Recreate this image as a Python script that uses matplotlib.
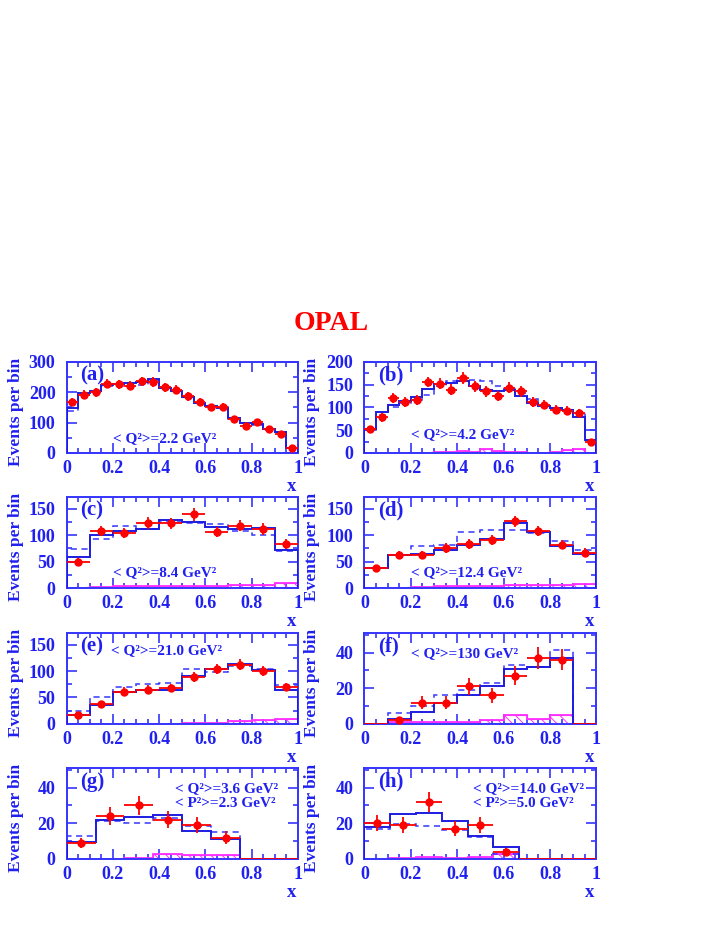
#!/usr/bin/env python3
# OPAL x distributions, 8 panels

import numpy as np
import matplotlib
matplotlib.use("Agg")
import matplotlib.pyplot as plt
from matplotlib.ticker import MultipleLocator, FuncFormatter

plt.rcParams["font.family"] = ["Liberation Serif", "DejaVu Serif"]
plt.rcParams["font.weight"] = "bold"
plt.rcParams["hatch.linewidth"] = 0.7

BLUE = "#3535ff"
TEXT_BLUE = "#2020f0"
HIST_BLUE = "#1c1ce0"
RED = "#ff0000"
MAGENTA = "#ff30ff"

# panel labels
panel_tags = ["(a)", "(b)", "(c)", "(d)", "(e)", "(f)", "(g)", "(h)"]
q2_labels = ["< Q²>=2.2 GeV²", "< Q²>=4.2 GeV²", "< Q²>=8.4 GeV²", "< Q²>=12.4 GeV²",
             "< Q²>=21.0 GeV²", "< Q²>=130 GeV²", "< Q²>=3.6 GeV²", "< Q²>=14.0 GeV²"]
p2_labels = [None, None, None, None, None, None, "< P²>=2.3 GeV²", "< P²>=5.0 GeV²"]

# number of bins in [0,1]
n_bins = [20, 20, 10, 10, 10, 10, 8, 9]
y_max = [300, 200, 172, 172, 172, 51, 51, 51]
y_major = [100, 50, 50, 50, 50, 20, 20, 20]

# (a)
data_a = [169, 192, 200, 229, 226, 222, 237, 234, 217, 209, 187, 168, 151, 153, 111, 90, 102, 80, 62, 18]
err_a = [13, 14, 14, 15, 15, 15, 15, 15, 15, 14, 14, 13, 12, 12, 11, 9, 10, 9, 8, 4]
solid_a = [148, 197, 205, 225, 228, 230, 235, 243, 214, 203, 183, 165, 155, 148, 115, 100, 95, 78, 70, 18]
dash_a = [140, 190, 200, 220, 222, 222, 225, 240, 215, 205, 185, 167, 155, 152, 112, 98, 92, 75, 68, 15]
bkg_a = [1, 1, 1, 1, 1, 1, 1, 1, 1, 1, 1, 1, 1, 1, 1, 1, 1, 1, 1, 1]

# (b)
data_b = [52, 78, 121, 113, 116, 156, 152, 139, 165, 147, 136, 126, 143, 136, 111, 106, 95, 93, 87, 24]
err_b = [7, 9, 11, 11, 11, 12, 12, 12, 13, 12, 12, 11, 12, 12, 11, 10, 10, 10, 9, 5]
solid_b = [52, 91, 106, 115, 124, 141, 152, 153, 158, 147, 139, 136, 138, 126, 110, 104, 99, 95, 79, 28]
dash_b = [50, 84, 100, 110, 117, 128, 147, 158, 165, 160, 158, 147, 141, 132, 119, 106, 99, 95, 87, 50]
bkg_b = [1, 1, 1, 1, 1, 1, 2, 2, 5, 3, 8, 4, 2, 2, 1, 1, 2, 6, 9, 1]

# (c)
data_c = [50, 108, 104, 123, 122, 139, 106, 118, 112, 83]
err_c = [7, 10, 10, 11, 11, 12, 10, 11, 11, 9]
solid_c = [59, 100, 107, 112, 128, 125, 115, 112, 113, 71]
dash_c = [73, 93, 117, 112, 124, 122, 121, 107, 101, 69]
bkg_c = [0, 1, 3, 3, 3, 3, 3, 5, 5, 10]

# (d)
data_d = [38, 62, 62, 76, 83, 91, 126, 108, 82, 67]
err_d = [6, 8, 8, 9, 9, 10, 11, 10, 9, 8]
solid_d = [37, 63, 65, 72, 82, 93, 123, 106, 80, 65]
dash_d = [38, 63, 80, 82, 105, 109, 109, 104, 88, 71]
bkg_d = [0, 0, 2, 3, 3, 3, 6, 5, 5, 7]

# (e)
data_e = [17, 37, 61, 65, 68, 89, 104, 112, 100, 70]
err_e = [4, 6, 8, 8, 8, 9, 10, 11, 10, 8]
solid_e = [16, 36, 61, 64, 64, 91, 104, 114, 102, 64]
dash_e = [24, 51, 69, 75, 77, 103, 98, 109, 104, 73]
bkg_e = [0, 0, 0, 0, 0, 1, 2, 5, 7, 10]

# (f)
data_f = [0, 2, 12, 12, 21, 16, 27, 37, 36, 0]
err_f = [0, 1.4, 3.5, 3.5, 4.6, 4.0, 5.2, 6.1, 6.0, 0]
solid_f = [0, 2.6, 6.5, 12, 16.4, 21, 31, 32, 37, 0]
dash_f = [0, 6, 10, 16, 19, 23, 33, 32, 41.5, 0]
bkg_f = [0, 1, 1, 1, 1, 2, 5, 3, 5, 0]

# (g)
data_g = [9, 24, 30, 22, 19, 12, 0, 0]
err_g = [3.0, 4.9, 5.5, 4.7, 4.4, 3.5, 0, 0]
solid_g = [9.7, 22, 23.6, 24.5, 15.6, 11, 0, 0]
dash_g = [13, 21, 20, 22.7, 18.6, 15, 0, 0]
bkg_g = [0, 0, 0.5, 3, 2, 2, 0, 0]

# (h)
data_h = [20, 19, 32, 17, 19, 4, 0, 0, 0]
err_h = [4.5, 4.4, 5.7, 4.1, 4.4, 2.0, 0, 0, 0]
solid_h = [18, 25, 25.5, 21, 13, 6.5, 0, 0, 0]
dash_h = [17, 19.5, 18.4, 16, 12.5, 2.6, 0, 0, 0]
bkg_h = [0, 0.5, 1, 0.5, 1, 3, 0, 0, 0]

data_all = [data_a, data_b, data_c, data_d, data_e, data_f, data_g, data_h]
err_all = [err_a, err_b, err_c, err_d, err_e, err_f, err_g, err_h]
solid_all = [solid_a, solid_b, solid_c, solid_d, solid_e, solid_f, solid_g, solid_h]
dash_all = [dash_a, dash_b, dash_c, dash_d, dash_e, dash_f, dash_g, dash_h]
bkg_all = [bkg_a, bkg_b, bkg_c, bkg_d, bkg_e, bkg_f, bkg_g, bkg_h]

# where the text goes (axes fraction)
q2_pos = [(0.20, 0.16), (0.20, 0.20), (0.20, 0.17), (0.20, 0.17),
          (0.19, 0.81), (0.20, 0.77), (0.47, 0.77), (0.47, 0.77)]

fig = plt.figure(figsize=(7.16, 9.26), dpi=100)

fig.text(0.4625, 0.651, "OPAL", color=RED, fontsize=20, fontweight="bold",
         ha="center", va="center")

col_left = [0.0931, 0.509]
col_width = [0.3229, 0.324]
row_bottom = [0.5108, 0.365, 0.2182, 0.0724]
row_height = 0.0983
ylab_x = [-0.185, -0.19]

for i in range(8):
    r, c = divmod(i, 2)
    ax = fig.add_axes([col_left[c], row_bottom[r], col_width[c], row_height])

    edges = np.linspace(0, 1, n_bins[i] + 1)
    centers = 0.5 * (edges[:-1] + edges[1:])
    half = 0.5 * (edges[1] - edges[0])
    data = np.array(data_all[i], dtype=float)
    err = np.array(err_all[i], dtype=float)

    # background (hatched magenta)
    ax.stairs(bkg_all[i], edges, fill=True, facecolor="none", edgecolor=MAGENTA,
              hatch="\\\\\\", lw=0.8, zorder=2)
    ax.stairs(bkg_all[i], edges, color=MAGENTA, lw=1.3, zorder=2)

    # MC histograms
    ax.stairs(dash_all[i], edges, color=BLUE, lw=1.1, ls=(0, (4, 3)), zorder=3)
    ax.stairs(solid_all[i], edges, color=HIST_BLUE, lw=1.4, zorder=4)

    # data points
    has = data > 0
    ax.errorbar(centers[has], data[has], xerr=half, yerr=err[has], fmt="o",
                color=RED, ms=5, lw=1.3, capsize=0, zorder=5)
    if (~has).any():
        ax.errorbar(centers[~has], data[~has], xerr=half, fmt="none",
                    color=RED, lw=1.3, zorder=5)

    ax.set_xlim(0, 1)
    ax.set_ylim(0, y_max[i])

    # axes look
    for sp in ax.spines.values():
        sp.set_color(BLUE)
        sp.set_linewidth(1.4)
    ax.xaxis.set_major_locator(MultipleLocator(0.2))
    ax.xaxis.set_minor_locator(MultipleLocator(0.05))
    ax.yaxis.set_major_locator(MultipleLocator(y_major[i]))
    ax.yaxis.set_minor_locator(MultipleLocator(y_major[i] / 2))
    ax.xaxis.set_major_formatter(FuncFormatter(lambda v, p: f"{v:g}"))
    ax.yaxis.set_major_formatter(FuncFormatter(lambda v, p: f"{v:g}"))
    ax.tick_params(which="both", direction="in", top=True, right=True,
                   color=BLUE, width=1.2, labelcolor=TEXT_BLUE, labelsize=13)
    ax.tick_params(which="major", length=7)
    ax.tick_params(which="minor", length=3.5)
    ax.tick_params(axis="y", pad=8)
    ax.tick_params(axis="x", pad=5)
    for lab in ax.get_xticklabels() + ax.get_yticklabels():
        lab.set_fontweight("bold")

    ax.set_ylabel("Events per bin", color=TEXT_BLUE, fontsize=12.5, fontweight="bold")
    ax.yaxis.set_label_coords(ylab_x[c], 0.45)
    ax.set_xlabel("x", color=TEXT_BLUE, fontsize=13.5, fontweight="bold")
    ax.xaxis.set_label_coords(0.972, -0.27)

    # text
    ax.text(0.06, 0.85, panel_tags[i], transform=ax.transAxes, color=TEXT_BLUE,
            fontsize=15, fontweight="bold", va="center")
    qx, qy = q2_pos[i]
    ax.text(qx, qy, q2_labels[i], transform=ax.transAxes, color=TEXT_BLUE,
            fontsize=11, fontweight="bold", va="center")
    if p2_labels[i]:
        ax.text(qx, 0.61, p2_labels[i], transform=ax.transAxes, color=TEXT_BLUE,
                fontsize=11, fontweight="bold", va="center")

fig.savefig("out.png", dpi=100)
